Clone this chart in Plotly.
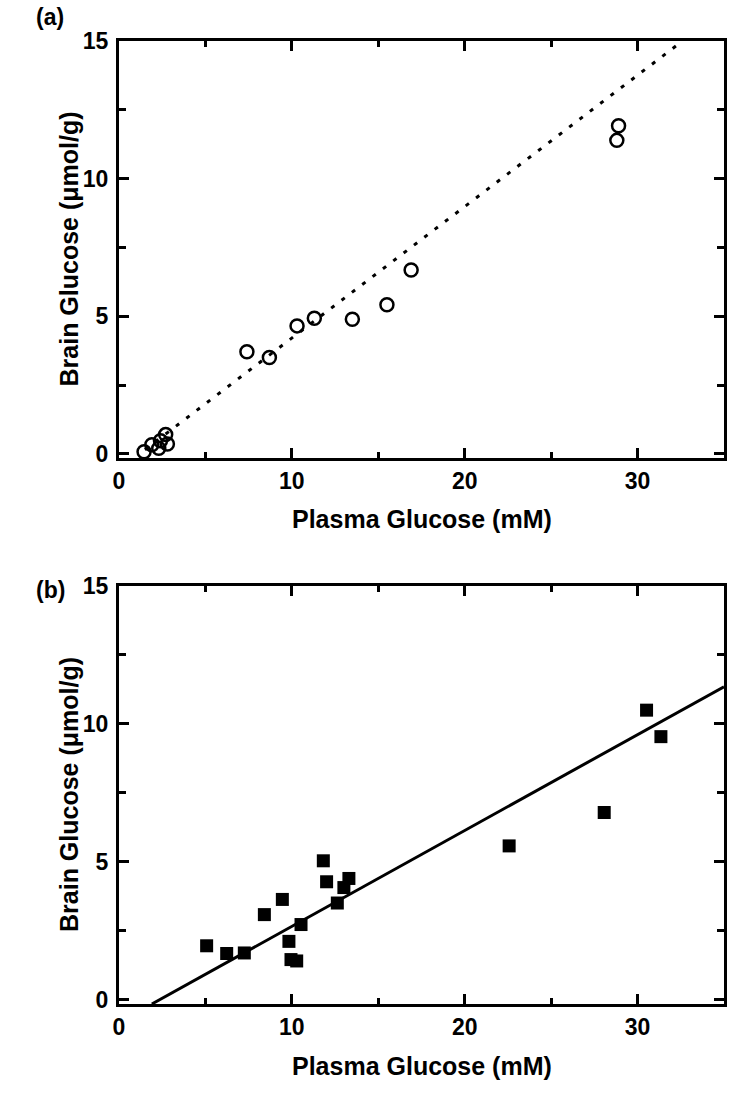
import plotly.graph_objects as go
from plotly.subplots import make_subplots

# Panel (a): open circles
plasma_a = [1.45, 1.9, 2.3, 2.4, 2.7, 2.8, 7.4, 8.7, 10.3, 11.3, 13.5, 15.5, 16.9, 28.8, 28.9]
brain_a = [0.08, 0.33, 0.2, 0.48, 0.7, 0.36, 3.71, 3.5, 4.65, 4.93, 4.89, 5.42, 6.68, 11.39, 11.92]
fit_a_x = [1.5, 32.6]
fit_a_y = [0.15, 15.0]

# Panel (b): filled squares
plasma_b = [5.07, 6.23, 7.25, 8.41, 9.45, 9.83, 9.95, 10.28, 10.53, 11.82, 12.01, 12.63,
            13.01, 13.30, 22.57, 28.07, 30.52, 31.35]
brain_b = [1.96, 1.68, 1.70, 3.09, 3.64, 2.12, 1.46, 1.41, 2.73, 5.04, 4.28, 3.51,
           4.07, 4.40, 5.58, 6.79, 10.50, 9.54]
fit_b_x = [1.9, 35.0]
fit_b_y = [-0.15, 11.35]

x_range = [0, 35]
y_range = [-0.15, 15]
panel_labels = ["(a)", "(b)"]
x_title = "Plasma Glucose (mM)"
y_title = "Brain Glucose (\u03bcmol/g)"

W, H = 744, 1099
mL, mR, mT, mB = 119, 20, 41, 95
ph = H - mT - mB
pw = W - mL - mR

fig = make_subplots(rows=2, cols=1, vertical_spacing=0.1)

fig.add_trace(go.Scatter(x=fit_a_x, y=fit_a_y, mode="lines",
                         line=dict(color="black", width=3, dash="4px,9px"),
                         showlegend=False), row=1, col=1)
fig.add_trace(go.Scatter(x=plasma_a, y=brain_a, mode="markers",
                         marker=dict(symbol="circle-open", size=13, color="black",
                                     line=dict(width=2.5, color="black")),
                         showlegend=False), row=1, col=1)
fig.add_trace(go.Scatter(x=fit_b_x, y=fit_b_y, mode="lines",
                         line=dict(color="black", width=3),
                         showlegend=False), row=2, col=1)
fig.add_trace(go.Scatter(x=plasma_b, y=brain_b, mode="markers",
                         marker=dict(symbol="square", size=13, color="black",
                                     line=dict(width=0)),
                         showlegend=False), row=2, col=1)

font_b = dict(family="Liberation Sans, Arial", size=23, color="black", weight="bold")
title_font = dict(family="Liberation Sans, Arial", size=25, color="black", weight="bold")

dom_a = [1 - (458 - mT) / ph, 1.0]
dom_b = [0.0, 1 - (586 - mT) / ph]


def py(pix):
    return 1 - (pix - mT) / ph


def px(pix):
    return (pix - mL) / pw


for i, dom in enumerate([dom_a, dom_b], start=1):
    xa = "xaxis" if i == 1 else "xaxis2"
    ya = "yaxis" if i == 1 else "yaxis2"
    fig.layout[xa].update(
        range=x_range, dtick=10, tick0=0, ticks="inside", ticklen=10, tickwidth=3,
        tickcolor="black", showline=True, linewidth=3, linecolor="black", mirror="ticks",
        showgrid=False, zeroline=False, tickfont=font_b,
        minor=dict(dtick=5, ticks="inside", ticklen=6, tickwidth=3, tickcolor="black", showgrid=False),
    )
    fig.layout[ya].update(
        domain=dom, range=y_range, dtick=5, tick0=0, ticks="inside", ticklen=10, tickwidth=3,
        tickcolor="black", showline=True, linewidth=3, linecolor="black", mirror="ticks",
        showgrid=False, zeroline=False, tickfont=font_b, ticklabelstandoff=3,
        minor=dict(dtick=2.5, ticks="inside", ticklen=7, tickwidth=3, tickcolor="black", showgrid=False),
    )

# axis titles
for yc in [519, 1066]:
    fig.add_annotation(text=x_title, xref="paper", yref="paper", x=0.5, y=py(yc),
                       showarrow=False, font=title_font, xanchor="center", yanchor="middle")
for yc in [249.5, 795]:
    fig.add_annotation(text=y_title, xref="paper", yref="paper", x=px(69), y=py(yc),
                       textangle=-90, showarrow=False, font=title_font,
                       xanchor="center", yanchor="middle")

# panel labels
fig.add_annotation(text=panel_labels[0], xref="paper", yref="paper",
                   x=px(50), y=py(17), showarrow=False, font=font_b,
                   xanchor="center", yanchor="middle")
fig.add_annotation(text=panel_labels[1], xref="paper", yref="paper",
                   x=px(50), y=py(590), showarrow=False, font=font_b,
                   xanchor="center", yanchor="middle")

fig.update_layout(width=W, height=H, margin=dict(l=mL, r=mR, t=mT, b=mB),
                  plot_bgcolor="white", paper_bgcolor="white")

fig.write_html("out.html", config={"displayModeBar": False},
               post_script="document.body.style.margin='0px';")
